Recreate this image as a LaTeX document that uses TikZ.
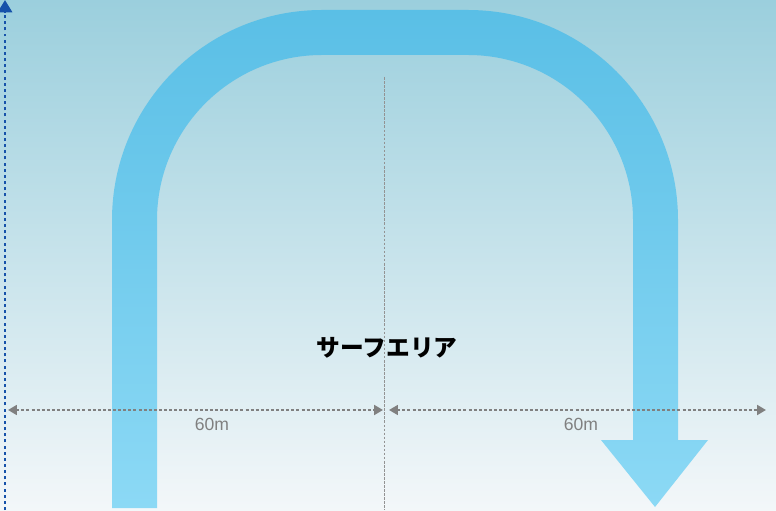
\documentclass[tikz,border=0pt]{standalone}
\usepackage{fontspec}
\setsansfont{Liberation Sans}
\newfontfamily\jpfont{Noto Sans CJK JP}
\usetikzlibrary{arrows.meta}
\definecolor{skytop}{RGB}{155,207,221}
\definecolor{skybot}{RGB}{243,247,249}
\definecolor{bandtop}{RGB}{90,191,230}
\definecolor{bandbot}{RGB}{140,217,245}
\definecolor{dimgray}{RGB}{128,128,128}
\definecolor{axisblue}{RGB}{22,82,170}
\tikzset{
	dimline/.style={dimgray, line width=1.7pt, dash pattern=on 1.7pt off 1.2pt,
		{Triangle[length=5pt,width=5.5pt]}-{Triangle[length=5pt,width=5.5pt]}},
	dimlabel/.style={text=dimgray, font=\sffamily\fontsize{10}{11}\selectfont},
}
\begin{document}
\begin{tikzpicture}[x=0.02cm, y=0.02cm]
	\shade[top color=skytop, bottom color=skybot] (0,0) rectangle (776,510);
	\useasboundingbox (0,0) rectangle (776,510);
	\shade[top color=bandtop, bottom color=bandbot]
	(112,2) -- (112,290) arc (180:90:210) -- (468,500) arc (90:0:210)
	-- (678,70) -- (708,70) -- (655,3) -- (601,70) -- (633,70)
	-- (633,290) arc (0:90:165) -- (322,455) arc (90:180:165)
	-- (157,2) -- cycle;
	\coordinate (axisbot) at (5,0);
	\coordinate (axistop) at (5,510);
	\coordinate (midtop) at (384,433);
	\coordinate (midbot) at (384,0);
	\coordinate (leftend) at (8,100);
	\coordinate (midleft) at (383,100);
	\coordinate (midright) at (389,100);
	\coordinate (rightend) at (766,100);
	\draw[axisblue, line width=1.7pt, dash pattern=on 1.7pt off 1.8pt,
		-{Triangle[length=7pt,width=8pt]}] (axisbot) -- (axistop);
	\draw[dimgray!85, line width=0.5pt, dash pattern=on 1.5pt off 0.8pt] (midtop) -- (midbot);
	\draw[dimline] (leftend) -- (midleft);
	\draw[dimline] (midright) -- (rightend);
	\node[dimlabel] (leftlen) at (212,86) {60m};
	\node[dimlabel] (rightlen) at (581,86) {60m};
	\node[font=\jpfont\bfseries\fontsize{13.5}{15}\selectfont] (surf) at (387,162) {サーフエリア};
\end{tikzpicture}
\end{document}
